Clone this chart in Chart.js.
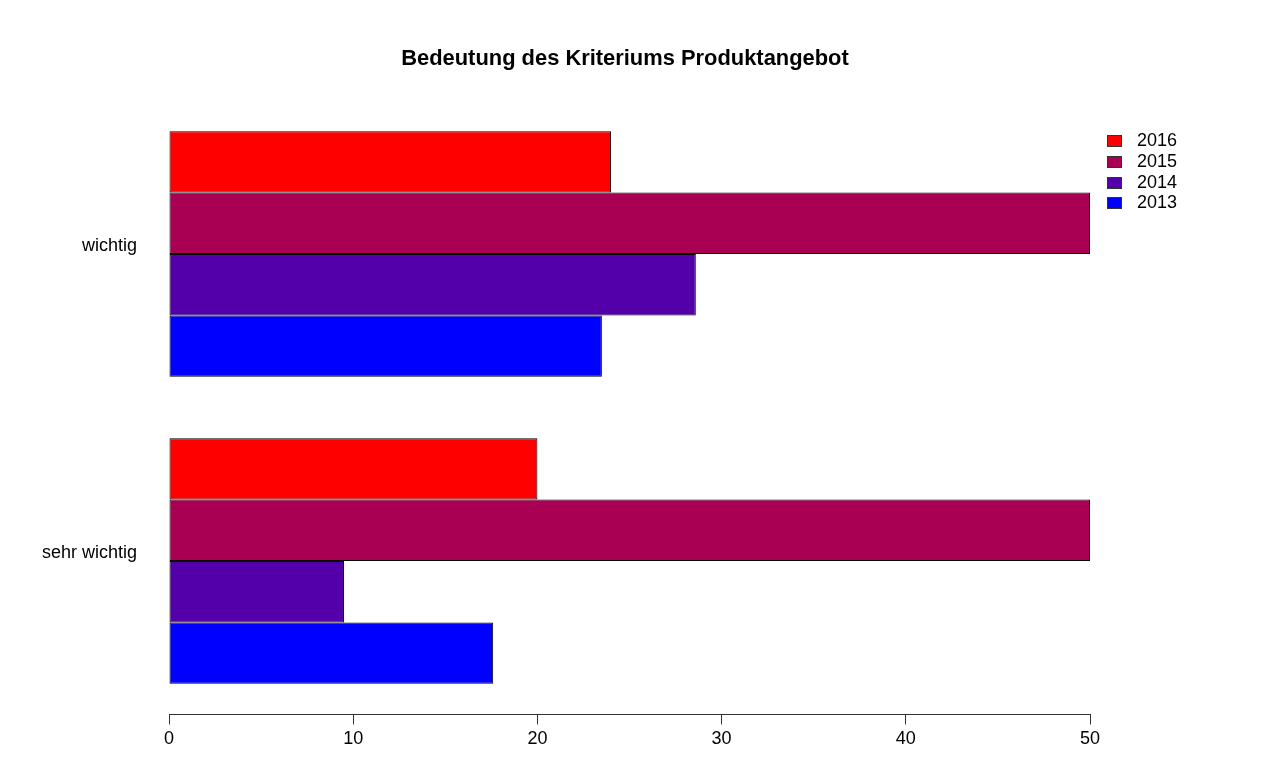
<!DOCTYPE html>
<html>
<head>
<meta charset="utf-8">
<script src="https://cdn.jsdelivr.net/npm/chart.js@4/dist/chart.umd.min.js"></script>
<style>
  body { margin: 0; background: #fff; }
  #wrap { position: relative; width: 1279px; height: 783px; }
  #titel { position: absolute; left: 160px; width: 930px; top: 45px; text-align: center; font-family: "Liberation Sans", Arial, sans-serif; font-size: 21.9px; font-weight: bold; line-height: 26px; color: #000; }
  #legend { position: absolute; left: 1107px; top: 130px; font-family: "Liberation Sans", Arial, sans-serif; font-size: 18px; color: #000; }
  .item { height: 20.8px; position: relative; }
  .box { position: absolute; left: 0; top: 5px; width: 13px; height: 10px; border: 1px solid #333; }
  .lbl { position: absolute; left: 30px; top: 0; line-height: 20.8px; }
</style>
</head>
<body>
<div id="wrap">
  <canvas id="chart" width="1279" height="783"></canvas>
  <div id="titel">Bedeutung des Kriteriums Produktangebot</div>
  <div id="legend"></div>
</div>
<script>
// Daten
const categories = ['wichtig', 'sehr wichtig'];
const years = ['2016', '2015', '2014', '2013'];
const werte2016 = [24.0, 20.0];
const werte2015 = [50, 50];
const werte2014 = [28.6, 9.5];
const werte2013 = [23.5, 17.6];
const xTicks = [0, 10, 20, 30, 40, 50];
const farben = ['#FF0000', '#AA0054', '#5400AA', '#0000FF'];

const serien = [werte2016, werte2015, werte2014, werte2013];
const schrift = '"Liberation Sans", Arial, sans-serif';

// Legende
const legend = document.getElementById('legend');
years.forEach(function(y, i) {
    const item = document.createElement('div');
    item.className = 'item';
    item.innerHTML = '<span class="box" style="background:' + farben[i] + '"></span><span class="lbl">' + y + '</span>';
    legend.appendChild(item);
});

const ctx = document.getElementById('chart').getContext('2d');
new Chart(ctx, {
    type: 'bar',
    data: {
        labels: categories,
        datasets: years.map(function(y, i) {
            return {
                label: y,
                data: serien[i],
                backgroundColor: farben[i],
                borderColor: '#000',
                borderWidth: 1,
                borderSkipped: false
            };
        })
    },
    options: {
        indexAxis: 'y',
        responsive: false,
        animation: false,
        devicePixelRatio: 1,
        categoryPercentage: 0.8,
        barPercentage: 1,
        layout: { padding: { left: 0, right: 189, top: 100.5, bottom: 0 } },
        plugins: {
            legend: { display: false },
            tooltip: { enabled: false },
            title: { display: false }
        },
        scales: {
            x: {
                min: 0,
                max: 50,
                afterBuildTicks: function(scale) {
                    scale.ticks = xTicks.map(function(v) { return { value: v }; });
                },
                afterFit: function(scale) { scale.height = 68.5; },
                grid: { drawOnChartArea: false, drawTicks: true, tickLength: 10, color: '#333' },
                border: { display: true, color: '#333', width: 1 },
                ticks: { color: '#000', padding: 4, font: { family: schrift, size: 18 } }
            },
            y: {
                afterFit: function(scale) { scale.width = 169; },
                grid: { display: false, drawTicks: false },
                border: { display: false },
                ticks: { color: '#000', padding: 32, labelOffset: -8, font: { family: schrift, size: 18 } }
            }
        }
    }
});
</script>
</body>
</html>
